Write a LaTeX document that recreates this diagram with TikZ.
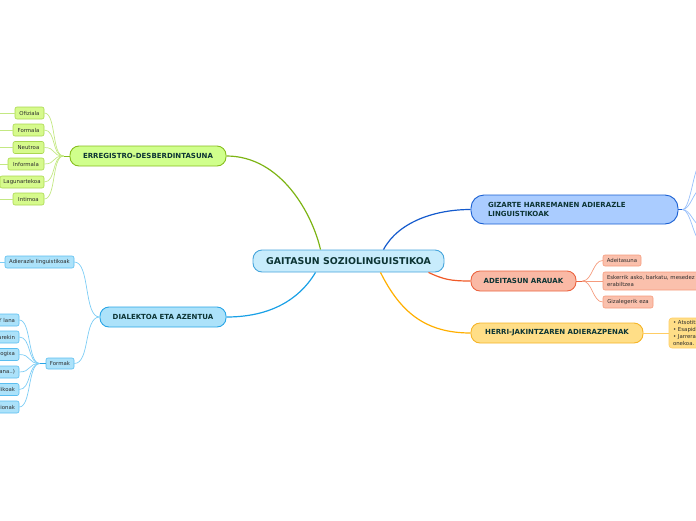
\documentclass[tikz,border=0pt]{standalone}
\usepackage{fontspec}
\setmainfont{DejaVu Sans}
\definecolor{maintext}{RGB}{12,52,52}
\definecolor{leaftext}{RGB}{45,45,45}
\definecolor{cfill}{RGB}{200,236,252}
\definecolor{cline}{RGB}{70,165,220}
\definecolor{gfill}{RGB}{208,255,140}
\definecolor{gline}{RGB}{135,190,30}
\definecolor{glfill}{RGB}{214,250,140}
\definecolor{glline}{RGB}{170,215,80}
\definecolor{gconn}{RGB}{195,232,130}
\definecolor{bfill}{RGB}{170,204,255}
\definecolor{bline}{RGB}{25,95,210}
\definecolor{bconn}{RGB}{150,190,250}
\definecolor{ofill}{RGB}{250,185,165}
\definecolor{oline}{RGB}{235,100,65}
\definecolor{olfill}{RGB}{250,192,172}
\definecolor{olline}{RGB}{245,155,125}
\definecolor{yfill}{RGB}{255,222,135}
\definecolor{yline}{RGB}{245,180,40}
\definecolor{yconn}{RGB}{255,205,100}
\definecolor{dfill}{RGB}{172,226,250}
\definecolor{dline}{RGB}{40,165,230}
\definecolor{dlfill}{RGB}{172,226,250}
\definecolor{dlline}{RGB}{90,190,240}
\definecolor{dconn}{RGB}{125,205,245}
\definecolor{cgreen}{RGB}{125,180,20}
\definecolor{cblue}{RGB}{20,90,205}
\definecolor{corange}{RGB}{240,90,40}
\definecolor{cyellow}{RGB}{255,175,0}
\definecolor{ccyan}{RGB}{25,160,230}
\begin{document}
\begin{tikzpicture}[x=1pt,y=-1pt,
  mainbox/.style={draw, rounded corners=9pt, line width=0.9pt, font=\bfseries\fontsize{7}{8}\selectfont, text=maintext, minimum height=20pt, inner sep=0pt},
  leafbox/.style={draw, rounded corners=2pt, line width=0.6pt, font=\fontsize{5.4}{6}\selectfont, text=leaftext, minimum height=12pt, inner sep=0pt},
  fbox/.style={leafbox, fill=dlfill, draw=dlline, minimum width=60pt, text width=52pt, align=right},
  mainconn/.style={line width=1.2pt},
  leafconn/.style={line width=0.7pt}]
\useasboundingbox (0,0) rectangle (696,520);
\clip (0,0) rectangle (696,520);
\coordinate (origin) at (0,0);

% central node
\node[mainbox, fill=cfill, draw=cline, minimum width=191pt, minimum height=22pt, font=\bfseries\fontsize{9.4}{10}\selectfont] (c) at (348.5,261) {GAITASUN SOZIOLINGUISTIKOA};

% main branches
\node[mainbox, fill=gfill, draw=gline, minimum width=156pt] (reg) at (148,156) {ERREGISTRO-DESBERDINTASUNA};
\node[mainbox, fill=bfill, draw=bline, minimum width=207pt, minimum height=29pt, rounded corners=13pt, text width=173pt, inner xsep=17pt, align=left, font=\bfseries\fontsize{7}{9}\selectfont] (giz) at (574.5,209.5) {GIZARTE HARREMANEN ADIERAZLE\\LINGUISTIKOAK};
\node[mainbox, fill=ofill, draw=oline, minimum width=105pt] (ade) at (523.5,281) {ADEITASUN ARAUAK};
\node[mainbox, fill=yfill, draw=yline, minimum width=172pt] (her) at (557,333) {HERRI-JAKINTZAREN ADIERAZPENAK};
\node[mainbox, fill=dfill, draw=dline, minimum width=126pt] (dia) at (163,317) {DIALEKTOA ETA AZENTUA};

% main connectors
\coordinate (cg) at ([xshift=-28pt]c.north);
\coordinate (cb) at ([xshift=35pt]c.north);
\coordinate (co) at ([xshift=80pt]c.south);
\coordinate (cy) at ([xshift=32pt]c.south);
\coordinate (cc) at ([xshift=-33pt]c.south);
\draw[mainconn, cgreen] (reg.east) .. controls +(55,0) and +(-8,-35) .. (cg);
\draw[mainconn, cblue] (cb) .. controls +(15,-28) and +(-35,0) .. (giz.west);
\draw[mainconn, corange] (co) .. controls +(15,7) and +(-20,0) .. (ade.west);
\draw[mainconn, cyellow] (cy) .. controls +(20,40) and +(-45,0) .. (her.west);
\draw[mainconn, ccyan] (cc) .. controls +(-18,30) and +(40,0) .. (dia.east);

% ERREGISTRO leaves
\node[leafbox, fill=glfill, draw=glline, minimum width=29pt] (l1) at (29.5,113) {Ofiziala};
\node[leafbox, fill=glfill, draw=glline, minimum width=31pt] (l2) at (28.5,130) {Formala};
\node[leafbox, fill=glfill, draw=glline, minimum width=31pt] (l3) at (28.5,147.5) {Neutroa};
\node[leafbox, fill=glfill, draw=glline, minimum width=36pt] (l4) at (26,164) {Informala};
\node[leafbox, fill=glfill, draw=glline, minimum width=44pt] (l5) at (22,182) {Lagunartekoa};
\node[leafbox, fill=glfill, draw=glline, minimum width=31pt] (l6) at (28.5,199) {Intimoa};
\coordinate (rg) at ([xshift=-6pt]reg.west);
\draw[leafconn, gline] (reg.west) -- (rg);
\foreach \n in {l1,l2,l3,l4,l5,l6}{
  \draw[leafconn, gconn] (rg) .. controls +(-12,0) and +(12,0) .. (\n.east);
}
\foreach \n in {l1,l2,l3,l4,l6}{
  \draw[leafconn, gconn] (\n.west) -- (\n.west -| origin);
}

% DIALEKTOA leaves
\node[leafbox, fill=dlfill, draw=dlline, minimum width=69pt] (d1) at (39.5,262) {Adierazle linguistikoak};
\node[leafbox, fill=dlfill, draw=dlline, minimum width=28pt, minimum height=11pt] (d2) at (60,363.5) {Formak};
\draw[leafconn, dconn] (d1.west) -- (d1.west -| origin);
\draw[leafconn, dconn] (dia.west) .. controls +(-16,0) and +(16,0) .. (d1.east);
\draw[leafconn, dconn] (dia.west) .. controls +(-16,0) and +(16,0) .. (d2.east);

% Formak children (clipped on the left)
\node[fbox] (f1) at (-11,320) {Y lana};
\node[fbox] (f2) at (-11,337) {arekin};
\node[fbox] (f3) at (-11,354.5) {ogixa};
\node[fbox] (f4) at (-11,372) {ana..)};
\node[fbox] (f5) at (-11,389.5) {dikoak};
\node[fbox] (f6) at (-11,407) {ionak};
\coordinate (fk) at ([xshift=-6pt]d2.west);
\draw[leafconn, dline] (d2.west) -- (fk);
\foreach \n in {f1,f2,f3,f4,f5,f6}{
  \draw[leafconn, dconn] (fk) .. controls +(-12,0) and +(12,0) .. (\n.east);
}

% GIZARTE children (off the right edge)
\coordinate (gz) at ([xshift=4pt]giz.east);
\coordinate (gz1) at (700,165);
\coordinate (gz2) at (700,190);
\coordinate (gz3) at (700,225);
\coordinate (gz4) at (700,240);
\draw[leafconn, bline] (giz.east) -- (gz);
\foreach \n in {gz1,gz2,gz3,gz4}{
  \draw[leafconn, bconn] (gz) .. controls +(8,0) and +(-6,0) .. (\n);
}

% ADEITASUN leaves
\node[leafbox, fill=olfill, draw=olline, minimum width=38pt, minimum height=11pt] (a1) at (622,260.5) {Adeitasuna};
\node[leafbox, fill=olfill, draw=olline, minimum width=160pt, minimum height=18pt, text width=152pt, inner xsep=4pt, align=left, font=\fontsize{5.4}{6.5}\selectfont] (a2) at (683,281) {Eskerrik asko, barkatu, mesedez\\erabiltzea};
\node[leafbox, fill=olfill, draw=olline, minimum width=50pt] (a3) at (628,302) {Gizalegerik eza};
\coordinate (ak) at ([xshift=6pt]ade.east);
\draw[leafconn, oline] (ade.east) -- (ak);
\foreach \n in {a1,a2,a3}{
  \draw[leafconn, olline] (ak) .. controls +(10,0) and +(-10,0) .. (\n.west);
}

% HERRI leaf
\node[leafbox, fill=yfill, draw=yconn, minimum width=100pt, minimum height=30pt, text width=92pt, inner xsep=4pt, align=left, rounded corners=3pt, font=\fontsize{5.4}{6.9}\selectfont] (h1) at (719,333) {\textbullet\ Atsotitzak\\\textbullet\ Esapideak\\\textbullet\ Jarrerak eta\\onekoa.};
\draw[leafconn, yconn] (her.east) -- (h1.west);
\end{tikzpicture}
\end{document}
